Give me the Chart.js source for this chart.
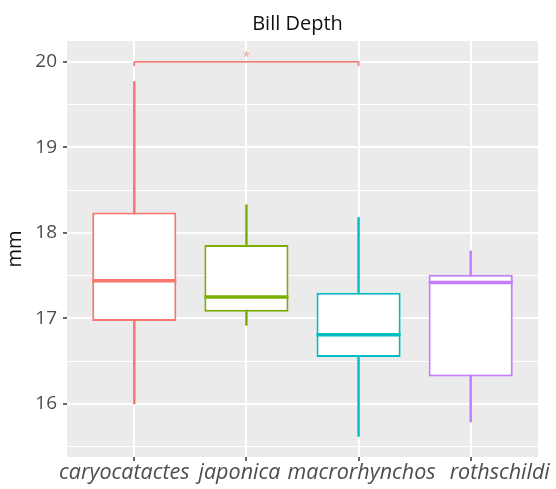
<!DOCTYPE html>
<html>
<head>
<meta charset="utf-8">
<script src="https://cdn.jsdelivr.net/npm/chart.js@4.4.1/dist/chart.umd.min.js"></script>
<style>
  body { margin: 0; background: #fff; }
</style>
</head>
<body>
<canvas id="billDepth" width="556" height="489"></canvas>
<script>
//----------------------------------------------
// data
//----------------------------------------------
const categories = ['caryocatactes', 'japonica', 'macrorhynchos', 'rothschildi'];
const positions = [1, 2, 3, 4];
const whiskerLow = [16.00, 16.92, 15.62, 15.79];
const lowerQuartile = [16.97, 17.08, 16.55, 16.32];
const medians = [17.44, 17.25, 16.81, 17.42];
const upperQuartile = [18.24, 17.86, 17.30, 17.51];
const whiskerHigh = [19.77, 18.33, 18.18, 17.79];
const colors = ['#F8766D', '#7CAE00', '#00BFC4', '#C77CFF'];

const yTicks = [16, 17, 18, 19, 20];
const yMinor = [15.5, 16.5, 17.5, 18.5, 19.5];

// significance bracket between caryocatactes and macrorhynchos
const bracketFrom = 1;
const bracketTo = 3;
const bracketY = 20;
const bracketTip = 0.05;
const bracketLabel = '*';

const FONT = "'Open Sans', 'Noto Sans', sans-serif";
// the category labels in the picture sit a little off their ticks
const labelShift = [-10, -7, 3, 29];

// grey ggplot panel + medians + bracket + title + x labels
const ggPlugin = {
    id: 'ggPlugin',
    beforeDraw(chart) {
        const {ctx, chartArea: a} = chart;
        ctx.save();
        ctx.fillStyle = '#EBEBEB';
        ctx.fillRect(a.left, a.top, a.right - a.left, a.bottom - a.top);
        ctx.restore();
    },
    afterDatasetsDraw(chart) {
        const ctx = chart.ctx;
        const xs = chart.scales.x, ys = chart.scales.y;
        const boxes = chart.getDatasetMeta(0).data;
        ctx.save();
        // median lines
        boxes.forEach((bar, i) => {
            const p = bar.getProps(['x', 'width'], true);
            const y = ys.getPixelForValue(medians[i]);
            ctx.strokeStyle = colors[i];
            ctx.lineWidth = 3.5;
            ctx.beginPath();
            ctx.moveTo(p.x - p.width / 2, y);
            ctx.lineTo(p.x + p.width / 2, y);
            ctx.stroke();
        });
        // bracket
        const x1 = xs.getPixelForValue(bracketFrom);
        const x2 = xs.getPixelForValue(bracketTo);
        const yb = ys.getPixelForValue(bracketY);
        const yt = ys.getPixelForValue(bracketY - bracketTip);
        ctx.strokeStyle = '#EE847C';
        ctx.lineWidth = 1.8;
        ctx.beginPath();
        ctx.moveTo(x1, yt);
        ctx.lineTo(x1, yb);
        ctx.lineTo(x2, yb);
        ctx.lineTo(x2, yt);
        ctx.stroke();
        ctx.fillStyle = '#F09A93';
        ctx.font = '13px ' + FONT;
        ctx.textAlign = 'center';
        ctx.textBaseline = 'alphabetic';
        ctx.fillText(bracketLabel, (x1 + x2) / 2, yb - 1);
        ctx.restore();
    },
    afterDraw(chart) {
        const ctx = chart.ctx;
        const a = chart.chartArea;
        const xs = chart.scales.x;
        ctx.save();
        ctx.fillStyle = '#111';
        ctx.font = '20px ' + FONT;
        ctx.textAlign = 'center';
        ctx.textBaseline = 'middle';
        ctx.fillText('Bill Depth', (a.left + a.right) / 2 - 5, 24);

        ctx.fillStyle = '#4D4D4D';
        ctx.font = 'italic 21.5px ' + FONT;
        ctx.textBaseline = 'alphabetic';
        categories.forEach((c, i) => {
            ctx.fillText(c, xs.getPixelForValue(positions[i]) + labelShift[i], a.bottom + 22);
        });
        ctx.restore();
    }
};

const ctx = document.getElementById('billDepth').getContext('2d');

const billChart = new Chart(ctx, {
    type: 'bar',
    data: {
        datasets: [{
            label: 'box',
            data: positions.map((p, i) => ({x: p, y: [lowerQuartile[i], upperQuartile[i]]})),
            backgroundColor: '#FFFFFF',
            borderColor: colors,
            borderWidth: 2,
            borderSkipped: false,
            barPercentage: 0.75,
            categoryPercentage: 1,
            grouped: false
        }, {
            label: 'whisker',
            data: positions.map((p, i) => ({x: p, y: [whiskerLow[i], whiskerHigh[i]]})),
            backgroundColor: colors,
            barThickness: 1.8,
            grouped: false
        }]
    },
    options: {
        responsive: false,
        animation: false,
        events: [],
        layout: {
            padding: {top: 41, right: 18, left: 0, bottom: 0}
        },
        plugins: {
            legend: {display: false},
            tooltip: {enabled: false}
        },
        scales: {
            x: {
                type: 'linear',
                min: 0.4,
                max: 4.6,
                offset: false,
                afterBuildTicks: scale => {
                    scale.ticks = positions.map(v => ({value: v}));
                },
                afterFit: scale => { scale.height = 32; },
                border: {display: false},
                grid: {
                    offset: false,
                    color: '#FFFFFF',
                    lineWidth: 2,
                    tickColor: '#333333',
                    tickLength: 4,
                    tickWidth: 1.5
                },
                ticks: {
                    autoSkip: false,
                    maxRotation: 0,
                    padding: 1,
                    // labels drawn by ggPlugin
                    callback: () => ''
                }
            },
            y: {
                min: 15.38,
                max: 20.245,
                afterBuildTicks: scale => {
                    scale.ticks = yMinor.concat(yTicks).sort((a, b) => a - b).map(v => ({value: v}));
                },
                afterFit: scale => { scale.width = 67; },
                border: {display: false},
                grid: {
                    color: '#FFFFFF',
                    lineWidth: c => yTicks.includes(c.tick.value) ? 2 : 1,
                    tickColor: c => yTicks.includes(c.tick.value) ? '#333333' : 'rgba(0,0,0,0)',
                    tickLength: 4,
                    tickWidth: 1.5
                },
                ticks: {
                    autoSkip: false,
                    padding: 6,
                    color: '#4D4D4D',
                    font: {family: FONT, size: 19},
                    callback: v => yTicks.includes(v) ? String(v) : ''
                },
                title: {
                    display: true,
                    text: 'mm',
                    color: '#111',
                    font: {family: FONT, size: 20},
                    padding: {top: 3, bottom: 0}
                }
            }
        }
    },
    plugins: [ggPlugin]
});
</script>
</body>
</html>
